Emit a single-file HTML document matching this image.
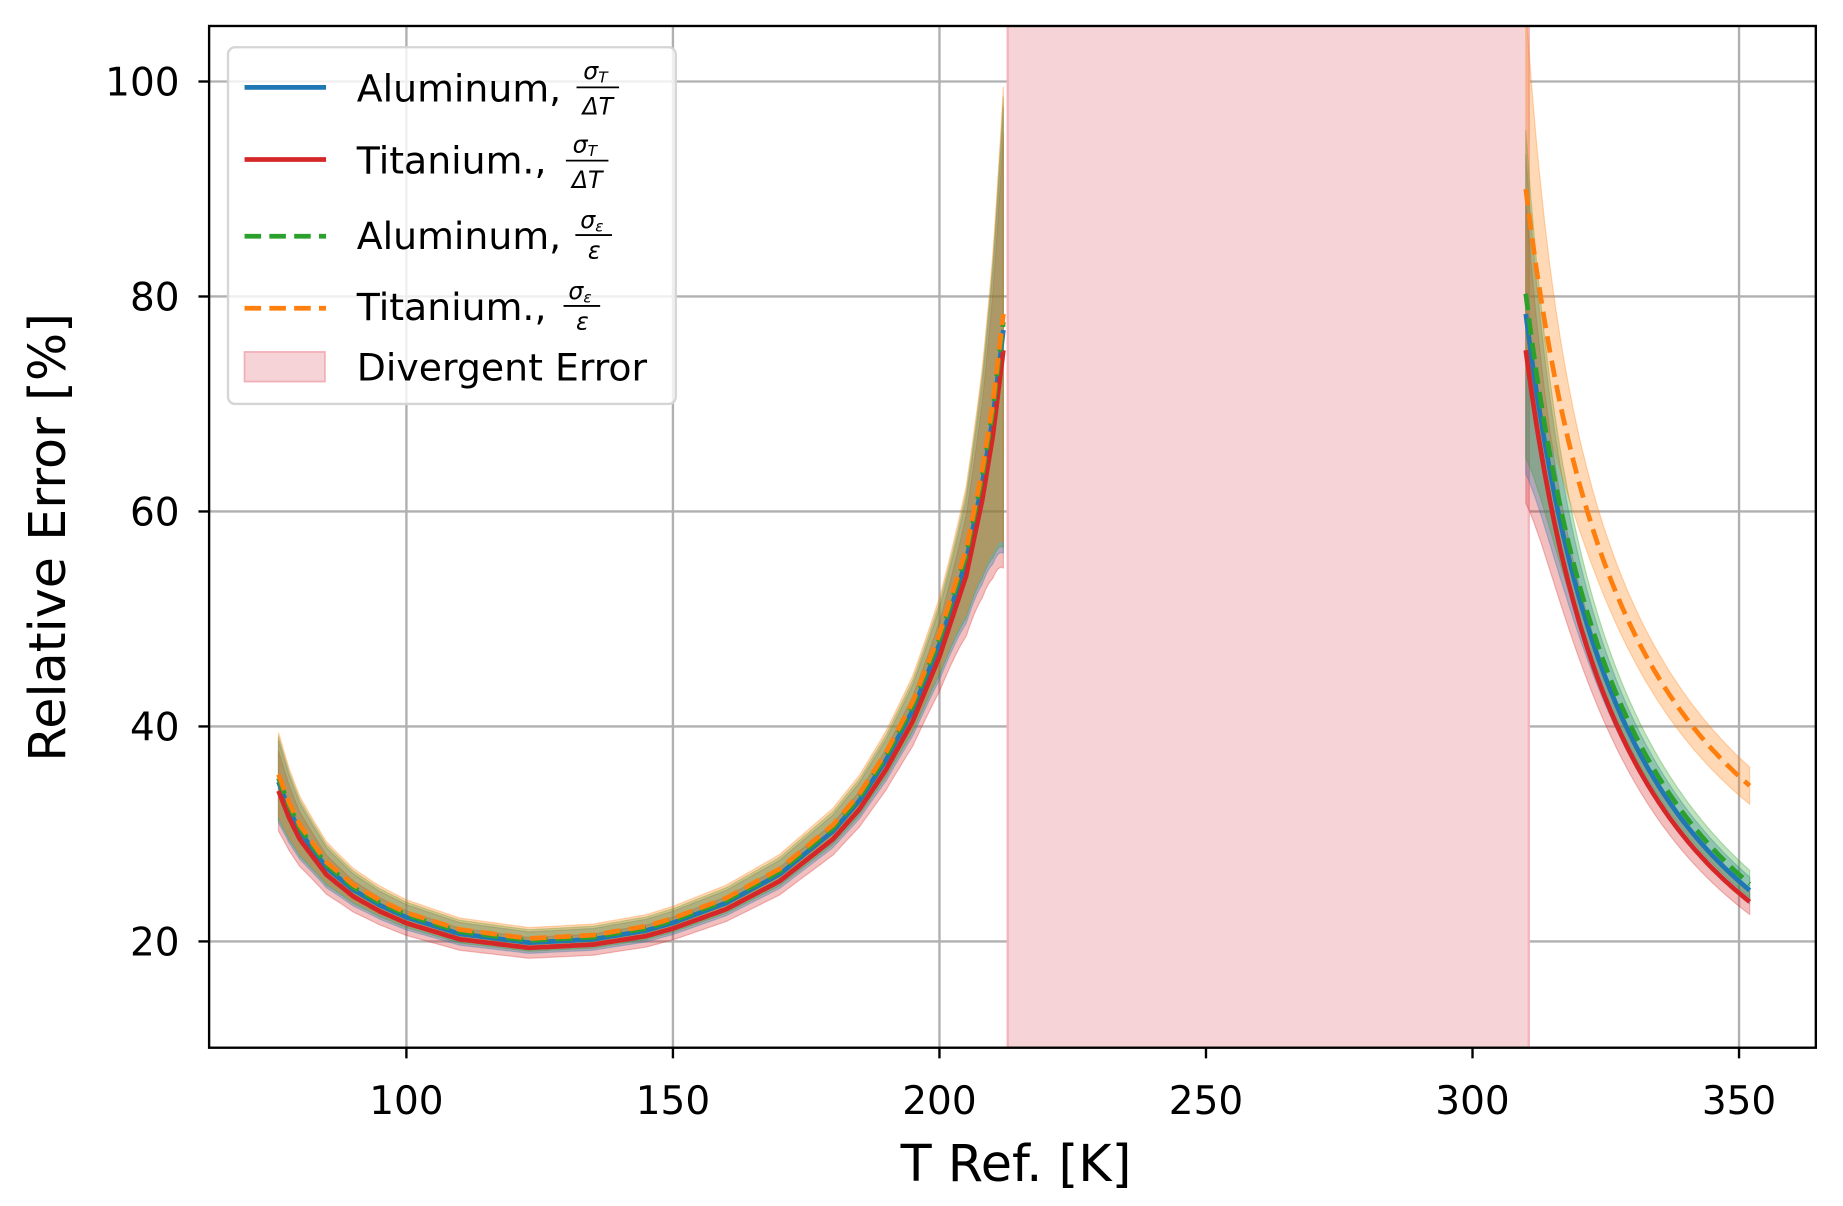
<!DOCTYPE html>
<html><head><meta charset="utf-8">
<style>html,body{margin:0;padding:0;background:#fff;}svg{display:block;}text{font-family:"DejaVu Sans","Liberation Sans",sans-serif;}</style>
</head><body>
<svg id="s" width="1843" height="1206" viewBox="0 0 1560 1021" preserveAspectRatio="none" xmlns="http://www.w3.org/2000/svg">
<defs><clipPath id="c"><rect x="177" y="22" width="1360" height="865"/></clipPath></defs>
<rect width="1560" height="1021" fill="#fff"/>
<g id="grid" stroke="#b0b0b0" stroke-width="2"></g>
<rect x="853" y="22" width="441" height="865" fill="#f5d3d6"/>
<line x1="853" y1="22" x2="853" y2="887" stroke="#f3b5bb" stroke-width="2"/>
<line x1="1294" y1="22" x2="1294" y2="887" stroke="#f3b5bb" stroke-width="2"/>
<g id="plot" clip-path="url(#c)"></g>
<rect x="177" y="22" width="1360" height="865" fill="none" stroke="#000" stroke-width="2"/>
<g id="ticks" font-size="33"></g>
<text x="860" y="1000" font-size="43" text-anchor="middle">T Ref. [K]</text>
<text transform="translate(55,455) rotate(-90)" font-size="43" text-anchor="middle">Relative Error [%]</text>
<g>
<rect x="193" y="40" width="379" height="302" rx="6" fill="#fff" fill-opacity="0.8" stroke="#d5d5d5" stroke-width="2"/>
<line x1="207" y1="74" x2="276" y2="74" stroke="#1f77b4" stroke-width="4"/>
<line x1="207" y1="135" x2="276" y2="135" stroke="#d62728" stroke-width="4"/>
<line x1="207" y1="200" x2="276" y2="200" stroke="#2ca02c" stroke-width="4" stroke-dasharray="14,7"/>
<line x1="207" y1="261" x2="276" y2="261" stroke="#ff7f0e" stroke-width="4" stroke-dasharray="14,7"/>
<rect x="207" y="298" width="68" height="25" fill="#f5d3d6" stroke="#f0b0b7" stroke-width="1.5"/>
<g font-size="32">
<text x="302" y="86">Aluminum,</text>
<text x="302" y="147">Titanium.,</text>
<text x="302" y="211">Aluminum,</text>
<text x="302" y="271">Titanium.,</text>
<text x="302" y="322">Divergent Error</text>
</g>
<g font-size="20" font-style="italic" text-anchor="middle">
<text x="504" y="67">σ<tspan font-size="13" dy="3">T</tspan></text><line x1="488" y1="74" x2="524" y2="74" stroke="#000" stroke-width="1.5"/><text x="506" y="97">ΔT</text>
<text x="495" y="129">σ<tspan font-size="13" dy="3">T</tspan></text><line x1="479" y1="136" x2="515" y2="136" stroke="#000" stroke-width="1.5"/><text x="497" y="159">ΔT</text>
<text x="501" y="193">σ<tspan font-size="13" dy="3">ε</tspan></text><line x1="487" y1="199" x2="518" y2="199" stroke="#000" stroke-width="1.5"/><text x="503" y="219">ε</text>
<text x="491" y="253">σ<tspan font-size="13" dy="3">ε</tspan></text><line x1="477" y1="259" x2="508" y2="259" stroke="#000" stroke-width="1.5"/><text x="493" y="279">ε</text>
</g>
</g>
</svg>
<script>
var NS="http://www.w3.org/2000/svg";
function X(t){return 344+(t-100)*4.512;}
function Y(v){return 797-(v-20)*9.1;}
function el(p,n,a){var e=document.createElementNS(NS,n);for(var k in a)e.setAttribute(k,a[k]);p.appendChild(e);return e;}
var grid=document.getElementById('grid'),ticks=document.getElementById('ticks'),plot=document.getElementById('plot');
[100,150,200,250,300,350].forEach(function(t){var x=X(t);el(grid,'line',{x1:x,y1:22,x2:x,y2:887});
el(ticks,'line',{x1:x,y1:887,x2:x,y2:896,stroke:'#000','stroke-width':2});
var tx=el(ticks,'text',{x:x,y:943,'text-anchor':'middle'});tx.textContent=t;});
[20,40,60,80,100].forEach(function(v){var y=Y(v);el(grid,'line',{x1:177,y1:y,x2:1537,y2:y});
el(ticks,'line',{x1:168,y1:y,x2:177,y2:y,stroke:'#000','stroke-width':2});
var tx=el(ticks,'text',{x:152,y:y+12,'text-anchor':'end'});tx.textContent=v;});
var P=[[76,34],[78,31.5],[80,29.5],[85,26.2],[90,24.2],[95,22.8],[100,21.7],[110,20.2],[123,19.4],[135,19.7],[145,20.5],[150,21.2],[160,23],[170,25.6],[180,29.5],[185,32.3],[190,36],[195,40.5],[200,46.5],[205,54],[208,61],[210,67],[212,75]];
function redL(t){for(var i=0;i<P.length-1;i++){if(t<=P[i+1][0]){var a=P[i],b=P[i+1],f=(t-a[0])/(b[0]-a[0]);return a[1]+f*(b[1]-a[1]);}}return 75;}
var series=[
 {c:'#d62728',fl:function(t){return redL(t);},fr:function(t){return 1515/(t-290)-0.75;},d:null},
 {c:'#1f77b4',fl:function(t){return redL(t)*1.025;},fr:function(t){return (1515/(t-290)-0.75)*1.045;},d:null},
 {c:'#2ca02c',fl:function(t){return redL(t)*1.035;},fr:function(t){return (1515/(t-290)-0.75)*1.07;},d:'14,7'},
 {c:'#ff7f0e',fl:function(t){return redL(t)*1.045;},fr:function(t){return 1639/(t-290)+8.05;},d:'14,7'}];
function wl(t){return 0.05+0.22*Math.exp(-(212-t)/5)+0.06*Math.exp(-(t-76)/8);}
function wr(t){return 0.05+0.14*Math.exp(-(t-310)/5);}
function band(f,w,t0,t1,c){var up=[],dn=[];for(var t=t0;t<=t1+1e-9;t+=0.5){var v=f(t),ww=w(t);up.push(X(t).toFixed(1)+','+Y(v*(1+ww)).toFixed(1));dn.unshift(X(t).toFixed(1)+','+Y(v*(1-ww)).toFixed(1));}
el(plot,'polygon',{points:up.concat(dn).join(' '),fill:c,'fill-opacity':0.3,stroke:c,'stroke-opacity':0.3,'stroke-width':1});}
function line(f,t0,t1,s){var p=[];for(var t=t0;t<=t1+1e-9;t+=0.5)p.push(X(t).toFixed(1)+','+Y(f(t)).toFixed(1));
var a={points:p.join(' '),fill:'none',stroke:s.c,'stroke-width':4,'stroke-linejoin':'round'};if(s.d)a['stroke-dasharray']=s.d;el(plot,'polyline',a);}
series.forEach(function(s){band(s.fl,wl,76,212,s.c);band(s.fr,wr,310,352,s.c);});
[1,0,2,3].forEach(function(i){var s=series[i];line(s.fl,76,212,s);line(s.fr,310,352,s);});
</script>
</body></html>
